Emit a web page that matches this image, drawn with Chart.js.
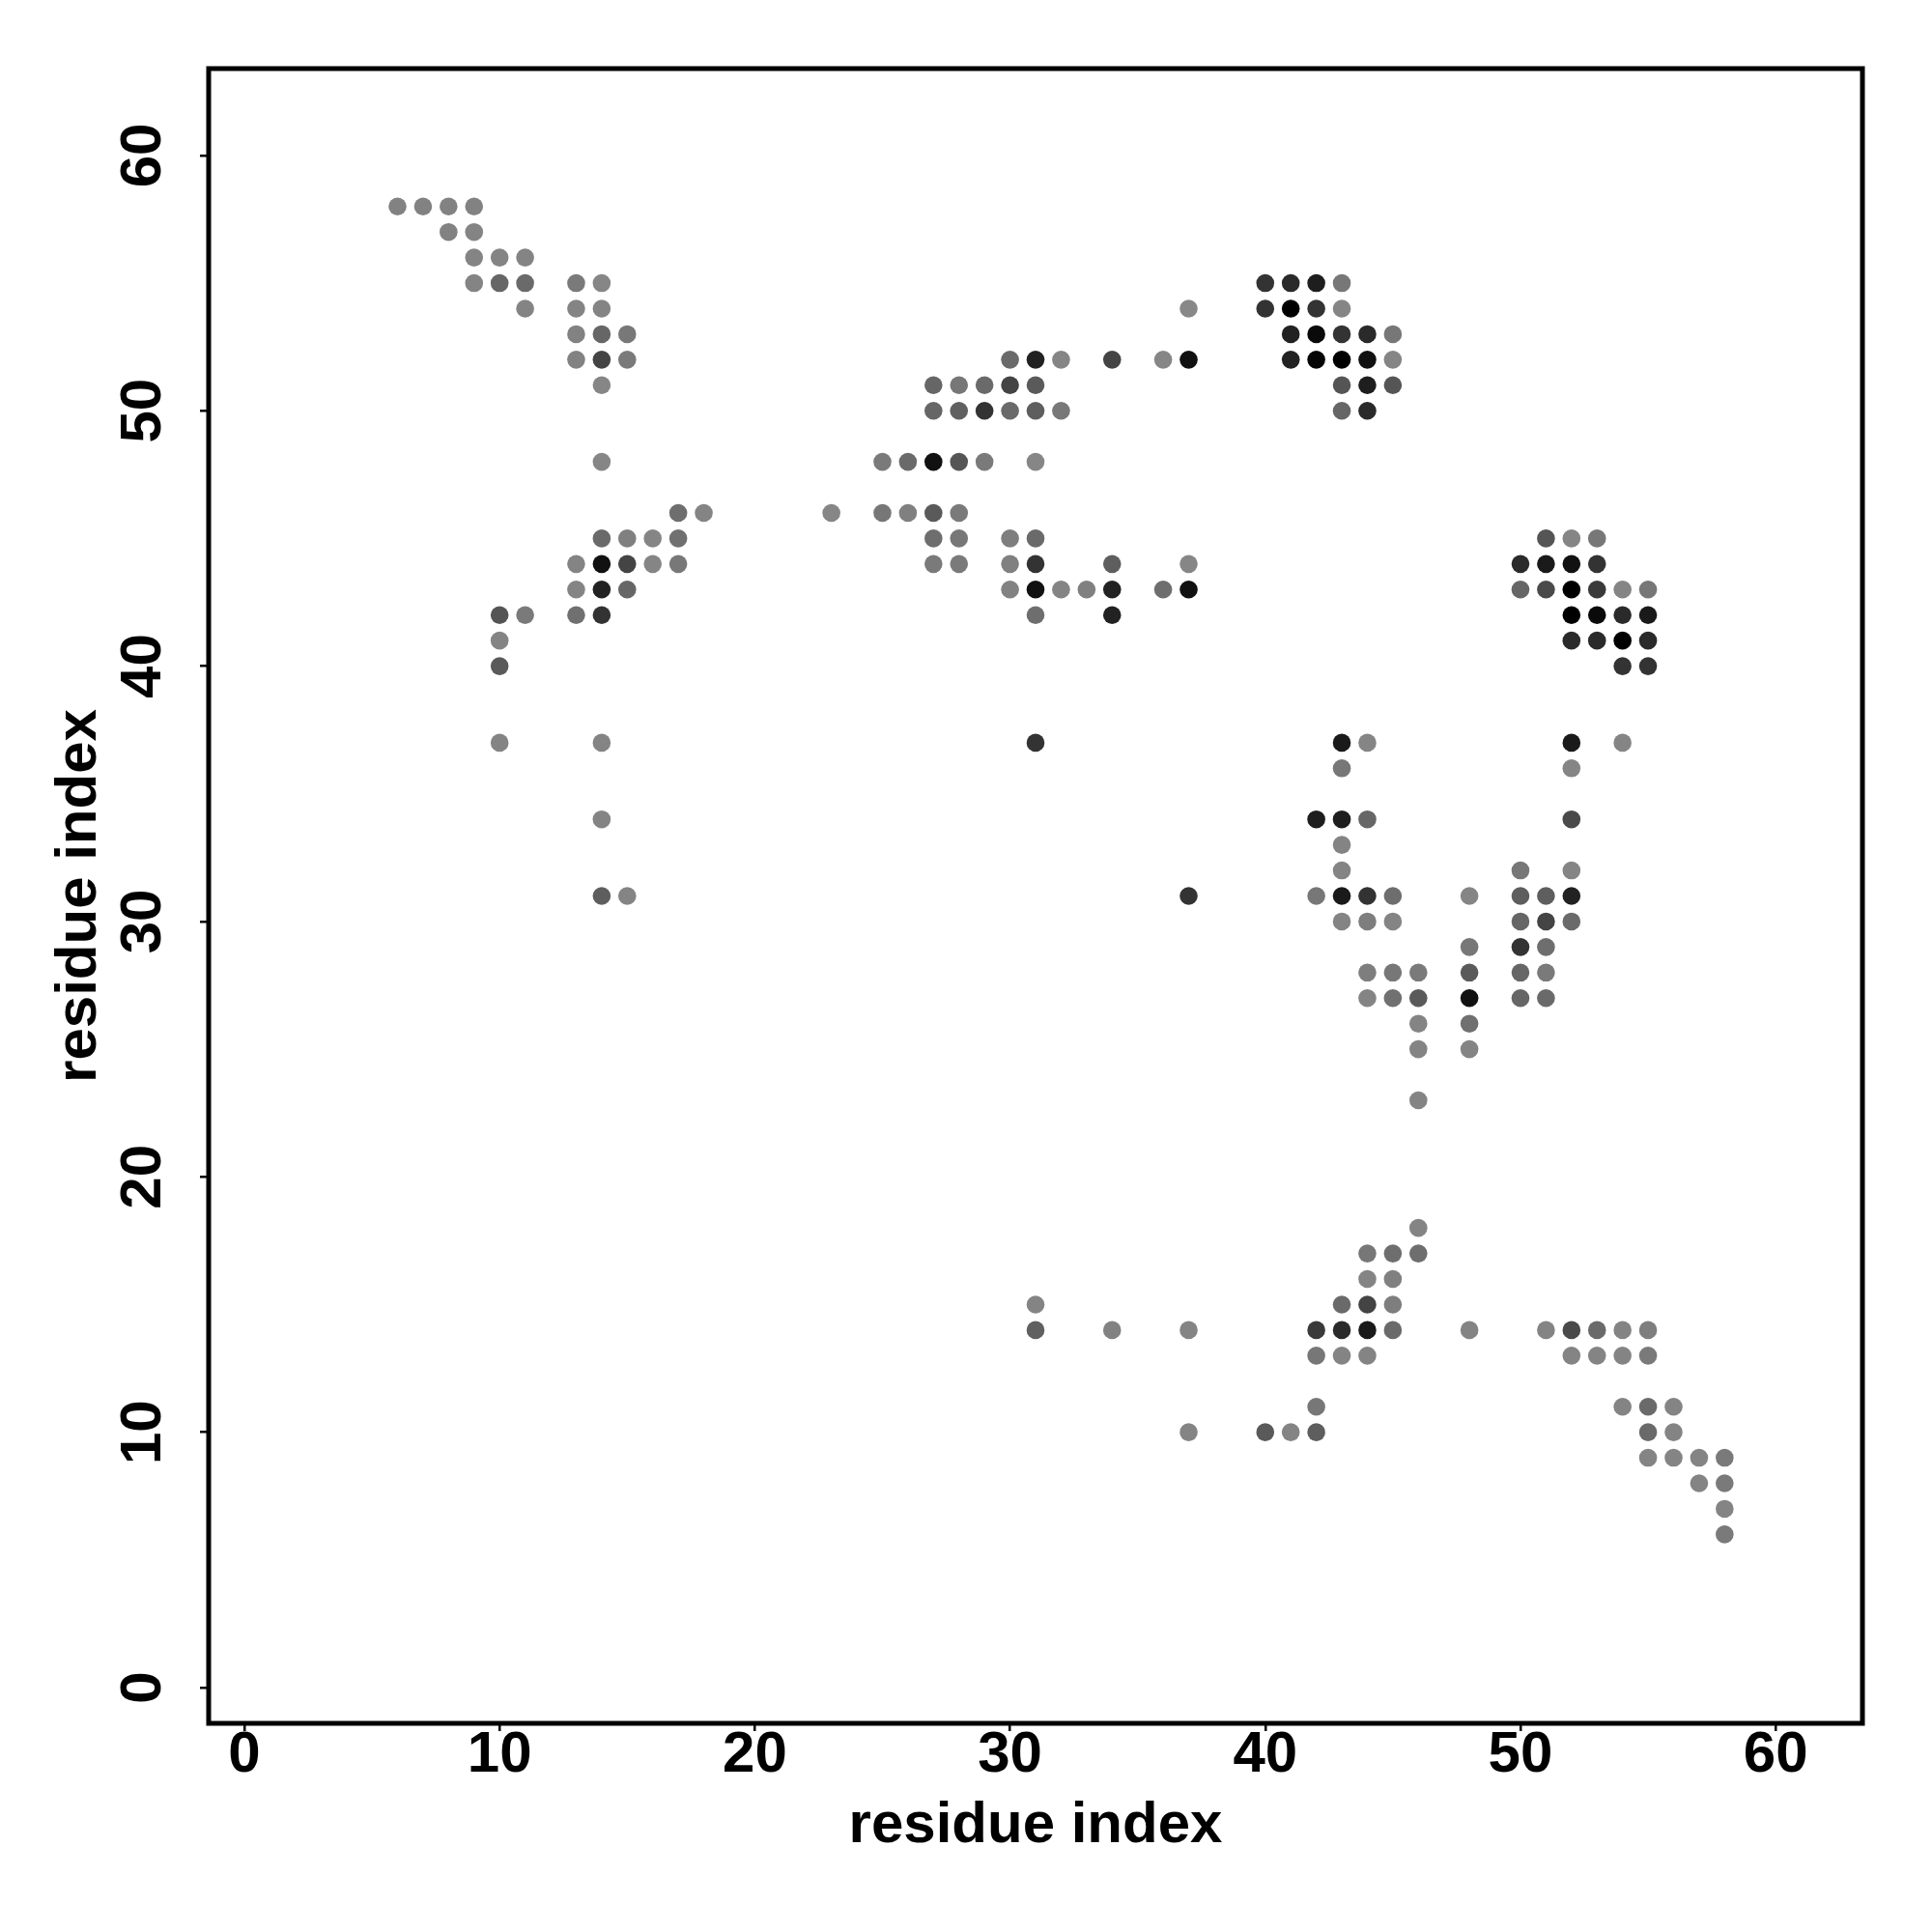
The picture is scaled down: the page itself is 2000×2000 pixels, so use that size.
<!DOCTYPE html>
<html>
<head>
<meta charset="utf-8">
<title>residue contacts</title>
<script src="https://cdn.jsdelivr.net/npm/chart.js@4.4.1/dist/chart.umd.min.js"></script>
<style>
html,body{margin:0;padding:0;background:#ffffff;}
#wrap{width:2000px;height:2000px;position:relative;}
</style>
</head>
<body>
<div id="wrap"><canvas id="grafico"></canvas></div>
<script>

// contactos: residuo i (x), residuo j (y), gris del punto (0 = negro)
let resX = [
6,7,8,9,
8,9,
9,10,11,
9,10,11,13,14,40,41,42,43,
11,13,14,37,40,41,42,43,
13,14,15,41,42,43,44,45,
13,14,15,30,31,32,34,36,37,41,42,43,44,45,
14,27,28,29,30,31,43,44,45,
27,28,29,30,31,32,43,44,
14,25,26,27,28,29,31,
17,18,23,25,26,27,28,
14,15,16,17,27,28,30,31,51,52,53,
13,14,15,16,17,27,28,30,31,34,37,50,51,52,53,
13,14,15,30,31,32,33,34,36,37,50,51,52,53,54,55,
10,11,13,14,31,34,52,53,54,55,
10,52,53,54,55,
10,54,55,
10,14,31,43,44,52,54,
43,52,
14,42,43,44,52,
43,
43,50,52,
14,15,37,42,43,44,45,48,50,51,52,
43,44,45,50,51,52,
48,50,51,
44,45,46,48,50,51,
44,45,46,48,50,51,
46,48,
46,48,
46,
46,
44,45,46,
44,45,
31,43,44,45,
31,34,37,42,43,44,45,48,51,52,53,54,55,
42,43,44,52,53,54,55,
42,54,55,56,
37,40,41,42,55,56,
55,56,57,58,
57,58,
58,
58
];

let resY = [
58,58,58,58,
57,57,
56,56,56,
55,55,55,55,55,55,55,55,55,
54,54,54,54,54,54,54,54,
53,53,53,53,53,53,53,53,
52,52,52,52,52,52,52,52,52,52,52,52,52,52,
51,51,51,51,51,51,51,51,51,
50,50,50,50,50,50,50,50,
48,48,48,48,48,48,48,
46,46,46,46,46,46,46,
45,45,45,45,45,45,45,45,45,45,45,
44,44,44,44,44,44,44,44,44,44,44,44,44,44,44,
43,43,43,43,43,43,43,43,43,43,43,43,43,43,43,43,
42,42,42,42,42,42,42,42,42,42,
41,41,41,41,41,
40,40,40,
37,37,37,37,37,37,37,
36,36,
34,34,34,34,34,
33,
32,32,32,
31,31,31,31,31,31,31,31,31,31,31,
30,30,30,30,30,30,
29,29,29,
28,28,28,28,28,28,
27,27,27,27,27,27,
26,26,
25,25,
23,
18,
17,17,17,
16,16,
15,15,15,15,
14,14,14,14,14,14,14,14,14,14,14,14,14,
13,13,13,13,13,13,13,
11,11,11,11,
10,10,10,10,10,10,
9,9,9,9,
8,8,
7,
6
];

let shade = [
130,130,130,130,
130,132,
132,132,132,
132,102,106,122,134,51,42,30,119,
132,132,132,136,51,0,51,133,
130,102,120,34,10,51,42,119,
130,68,122,106,34,133,68,134,17,34,5,0,17,133,
134,102,119,106,68,90,85,30,85,
102,96,51,106,94,120,102,42,
134,122,106,17,85,122,134,
110,132,134,119,128,90,122,
106,128,133,112,110,119,126,106,85,133,119,
132,17,68,133,120,122,122,128,51,94,134,42,26,17,51,
132,34,102,130,17,132,128,34,110,17,102,74,0,58,133,119,
85,122,112,51,110,34,0,10,42,26,
132,42,42,0,42,
90,51,51,
132,132,51,26,133,26,133,
119,133,
132,30,30,102,74,
132,
132,119,133,
94,132,51,119,26,51,110,133,94,94,34,
132,126,132,102,68,106,
119,51,110,
126,119,122,90,102,122,
132,112,90,17,102,106,
132,112,
132,132,
132,
132,
119,110,110,
132,128,
132,106,68,126,
96,130,132,58,42,26,106,132,132,74,106,132,126,
119,132,132,132,132,132,122,
119,132,106,132,
132,90,132,94,106,132,
132,132,132,122,
132,122,
132,
122
];

let ticksEje = [0,10,20,30,40,50,60];
let tituloEje = "residue index";

let fuente = "'Liberation Sans', Arial, Helvetica, sans-serif";

function gris(v){
return "rgb(" + v + "," + v + "," + v + ")";
}

let puntos = resX.map((x,i)=>({x: x, y: resY[i]}));

// marco negro alrededor del area del grafico (como bty="o")
let marco = {
id: "marco",
afterDatasetsDraw(chart){
let a = chart.chartArea;
let c = chart.ctx;
c.save();
c.lineWidth = 5;
c.strokeStyle = "#000";
c.strokeRect(a.left, a.top, a.right - a.left, a.bottom - a.top);
c.restore();
}
};

function fijarTicks(s){
s.ticks = ticksEje.map(v=>({value: v}));
}

let ctx = document.getElementById("grafico").getContext("2d");

window.miGrafico = new Chart(ctx, {

type: "scatter",

data: {
datasets: [
{
data: puntos,
pointRadius: 9.3,
pointHoverRadius: 9.3,
pointBorderWidth: 0,
pointBackgroundColor: shade.map(gris),
pointBorderColor: "rgba(0,0,0,0)"
}
]
},

options: {

responsive: true,
maintainAspectRatio: false,
animation: false,
events: [],

layout: {
padding: {top: 71, right: 72, left: 0, bottom: 0}
},

plugins: {
legend: {display: false},
tooltip: {enabled: false}
},

scales: {

x: {
type: "linear",
position: "bottom",
min: -1.4,
max: 63.4,
afterBuildTicks: fijarTicks,
afterFit: s => { s.height = 216; },
grid: {drawOnChartArea: false, drawTicks: true, tickLength: 8, lineWidth: 2.5, color: "#000"},
border: {display: false},
ticks: {
color: "#000",
autoSkip: false,
maxRotation: 0,
minRotation: 0,
padding: 0,
font: {family: fuente, weight: "bold", size: 60, lineHeight: 0.85}
},
title: {
display: true,
text: tituloEje,
color: "#000",
font: {family: fuente, weight: "bold", size: 60, lineHeight: 1.2},
padding: {top: 0, bottom: 74}
}
},

y: {
type: "linear",
position: "left",
min: -1.4,
max: 63.4,
afterBuildTicks: fijarTicks,
afterFit: s => { s.width = 216; },
grid: {drawOnChartArea: false, drawTicks: true, tickLength: 9, lineWidth: 2.5, color: "#000"},
border: {display: false},
ticks: {
color: "#000",
autoSkip: false,
minRotation: 90,
maxRotation: 90,
crossAlign: "center",
padding: 24,
font: {family: fuente, weight: "bold", size: 60, lineHeight: 1}
},
title: {
display: true,
text: tituloEje,
color: "#000",
font: {family: fuente, weight: "bold", size: 60, lineHeight: 1.2},
padding: {top: 46, bottom: 0}
}
}

}

},

plugins: [marco]

});

</script>
</body>
</html>
